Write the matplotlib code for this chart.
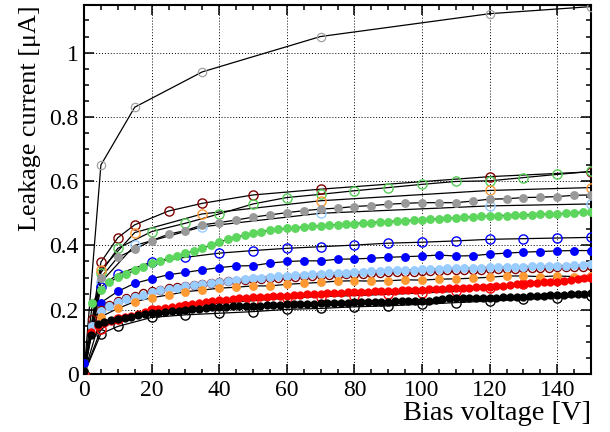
import matplotlib
matplotlib.use('Agg')
import matplotlib.pyplot as plt
from matplotlib.ticker import MultipleLocator, FormatStrFormatter
import numpy as np

plt.rcParams['font.family'] = ['Liberation Serif', 'DejaVu Serif']

# sparse scans, open markers
v_sparse = [0, 5, 15, 35, 70, 120, 150]
i_gray_open = [0.0, 0.650, 0.830, 0.940, 1.050, 1.121, 1.143]
i_orange_open = [0.0, 0.324, 0.440, 0.498, 0.539, 0.571, 0.580]
i_lblue_open = [0.0, 0.285, 0.400, 0.458, 0.500, 0.523, 0.529]

v_maroon = [0, 5, 10, 15, 25, 35, 50, 70, 120, 150]
i_maroon_open = [0.0, 0.348, 0.424, 0.464, 0.507, 0.531, 0.557, 0.575, 0.614, 0.629]

v_10 = [0, 5, 10, 20, 30, 40, 50, 60, 70, 80, 90, 100, 110, 120, 130, 140, 150]
i_green_open = [0.0, 0.315, 0.391, 0.443, 0.469, 0.498, 0.529, 0.549, 0.559,
                0.570, 0.580, 0.590, 0.599, 0.601, 0.611, 0.621, 0.630]
i_blue_open = [0.0, 0.270, 0.311, 0.348, 0.363, 0.376, 0.384, 0.391, 0.396,
               0.401, 0.407, 0.410, 0.414, 0.419, 0.421, 0.423, 0.425]
i_red_open = [0.0, 0.139, 0.170, 0.199, 0.212, 0.220, 0.228, 0.236, 0.241,
              0.244, 0.248, 0.252, 0.257, 0.268, 0.280, 0.291, 0.302]
i_black_open = [0.0, 0.125, 0.148, 0.176, 0.184, 0.189, 0.194, 0.201, 0.204,
                0.209, 0.212, 0.217, 0.222, 0.227, 0.232, 0.237, 0.244]

# 5 V step scans
v_5 = np.arange(0, 151, 5)
i_gray_fill = [0.010, 0.300, 0.363, 0.388, 0.415, 0.435, 0.446, 0.464, 0.471, 0.479,
               0.488, 0.495, 0.502, 0.508, 0.513, 0.516, 0.521, 0.524, 0.528, 0.531,
               0.533, 0.533, 0.533, 0.538, 0.544, 0.545, 0.549, 0.550, 0.552, 0.556,
               0.557]
i_blue_fill = [0.035, 0.222, 0.257, 0.282, 0.296, 0.309, 0.316, 0.324, 0.331, 0.336,
               0.337, 0.345, 0.350, 0.352, 0.352, 0.357, 0.358, 0.360, 0.363, 0.365,
               0.367, 0.370, 0.367, 0.368, 0.373, 0.376, 0.379, 0.381, 0.383, 0.384,
               0.384]
i_orange_fill = [0.0, 0.178, 0.204, 0.225, 0.237, 0.246, 0.256, 0.261, 0.267, 0.270,
                 0.274, 0.274, 0.279, 0.282, 0.285, 0.289, 0.290, 0.289, 0.290, 0.293,
                 0.292, 0.295, 0.296, 0.298, 0.301, 0.305, 0.305, 0.303, 0.305, 0.303,
                 0.304]

# 2.5 V step scans
v_25 = np.arange(0, 150.1, 2.5)
i_green_fill = [0.005, 0.222, 0.262, 0.285, 0.301, 0.311, 0.322, 0.333, 0.345, 0.352,
                0.360, 0.367, 0.375, 0.383, 0.391, 0.401, 0.410, 0.419, 0.426, 0.432,
                0.438, 0.443, 0.447, 0.450, 0.453, 0.455, 0.457, 0.459, 0.461, 0.463,
                0.465, 0.466, 0.468, 0.470, 0.471, 0.473, 0.474, 0.476, 0.477, 0.478,
                0.479, 0.481, 0.483, 0.485, 0.486, 0.487, 0.489, 0.490, 0.492, 0.493,
                0.493, 0.494, 0.495, 0.496, 0.497, 0.497, 0.498, 0.500, 0.502, 0.503,
                0.505]
i_lblue_fill = [0.0, 0.150, 0.195, 0.212, 0.223, 0.232, 0.240, 0.247, 0.255, 0.260,
                0.265, 0.269, 0.273, 0.277, 0.280, 0.283, 0.286, 0.289, 0.292, 0.295,
                0.298, 0.300, 0.302, 0.304, 0.305, 0.307, 0.308, 0.310, 0.311, 0.313,
                0.314, 0.315, 0.316, 0.318, 0.319, 0.320, 0.322, 0.323, 0.324, 0.325,
                0.326, 0.327, 0.328, 0.329, 0.329, 0.330, 0.331, 0.331, 0.332, 0.333,
                0.333, 0.334, 0.334, 0.335, 0.335, 0.336, 0.336, 0.337, 0.338, 0.339,
                0.341]
i_maroon_small = [0.0, 0.170, 0.200, 0.215, 0.227, 0.236, 0.244, 0.251, 0.257, 0.262,
                  0.266, 0.270, 0.274, 0.277, 0.280, 0.283, 0.285, 0.288, 0.290, 0.292,
                  0.294, 0.296, 0.298, 0.300, 0.301, 0.303, 0.304, 0.305, 0.307, 0.308,
                  0.309, 0.310, 0.311, 0.312, 0.313, 0.314, 0.316, 0.317, 0.318, 0.318,
                  0.319, 0.320, 0.321, 0.322, 0.322, 0.323, 0.324, 0.325, 0.326, 0.327,
                  0.328, 0.328, 0.329, 0.330, 0.330, 0.331, 0.332, 0.332, 0.333, 0.334,
                  0.335]

# 2 V step scans
v_2 = np.arange(0, 151, 2)
i_red_fill = [0.0, 0.130, 0.150, 0.158, 0.165, 0.172, 0.176, 0.181, 0.187, 0.193,
              0.198, 0.201, 0.204, 0.207, 0.210, 0.214, 0.217, 0.220, 0.223, 0.226,
              0.229, 0.231, 0.233, 0.235, 0.236, 0.238, 0.240, 0.241, 0.242, 0.243,
              0.244, 0.245, 0.247, 0.248, 0.249, 0.250, 0.251, 0.252, 0.253, 0.254,
              0.254, 0.255, 0.256, 0.257, 0.258, 0.259, 0.259, 0.260, 0.261, 0.261,
              0.262, 0.263, 0.264, 0.265, 0.266, 0.267, 0.268, 0.269, 0.270, 0.271,
              0.272, 0.274, 0.275, 0.277, 0.279, 0.280, 0.282, 0.284, 0.285, 0.286,
              0.287, 0.289, 0.292, 0.295, 0.299, 0.303]
i_black_fill = [0.010, 0.120, 0.155, 0.163, 0.168, 0.172, 0.175, 0.178, 0.182, 0.186,
                0.189, 0.191, 0.193, 0.195, 0.197, 0.199, 0.201, 0.203, 0.205, 0.207,
                0.208, 0.209, 0.210, 0.211, 0.212, 0.212, 0.213, 0.214, 0.215, 0.216,
                0.217, 0.218, 0.218, 0.219, 0.219, 0.220, 0.221, 0.221, 0.222, 0.222,
                0.223, 0.223, 0.224, 0.224, 0.225, 0.225, 0.226, 0.226, 0.226, 0.226,
                0.226, 0.228, 0.230, 0.233, 0.235, 0.236, 0.236, 0.236, 0.236, 0.236,
                0.236, 0.237, 0.238, 0.239, 0.240, 0.241, 0.242, 0.243, 0.244, 0.245,
                0.246, 0.247, 0.248, 0.249, 0.250, 0.251]


def draw(ax, v, i, color, filled, size=6.4, mew=1.0):
    ax.plot(v, i, color='black', lw=0.9, zorder=2)
    if filled:
        ax.plot(v, i, 'o', ms=size, mfc=color, mec=color, mew=0, zorder=3)
    else:
        ax.plot(v, i, 'o', ms=size, mfc='none', mec=color, mew=mew, zorder=3)


fig = plt.figure(figsize=(6.1, 4.32), dpi=100)
ax = fig.add_axes([0.1377, 0.1343, 0.8312, 0.8541])

draw(ax, v_sparse, i_gray_open, '#a0a0a0', False, 6.0, 0.9)
draw(ax, v_maroon, i_maroon_open, '#800000', False, 6.6)
draw(ax, v_10, i_green_open, '#55cc55', False, 6.6)
draw(ax, v_sparse, i_orange_open, '#ff9933', False, 6.6)
draw(ax, v_sparse, i_lblue_open, '#99ccff', False, 6.6)
draw(ax, v_10, i_blue_open, '#0000ff', False, 6.6)
draw(ax, v_10, i_black_open, 'black', False, 6.6)
draw(ax, v_10, i_red_open, '#ff0000', False, 6.6)
draw(ax, v_5, i_gray_fill, '#999999', True)
draw(ax, v_25, i_green_fill, '#5cd65c', True)
draw(ax, v_5, i_blue_fill, '#0000ff', True)
draw(ax, v_25, i_maroon_small, '#800000', False, 5.8)
draw(ax, v_25, i_lblue_fill, '#99ccff', True)
draw(ax, v_5, i_orange_fill, '#ff9933', True)
draw(ax, v_2, i_red_fill, '#ff0000', True, 6.0)
draw(ax, v_2, i_black_fill, 'black', True, 6.0)

ax.set_xlim(0, 150)
ax.set_ylim(0, 1.148)
ax.xaxis.set_major_locator(MultipleLocator(20))
ax.xaxis.set_minor_locator(MultipleLocator(5))
ax.yaxis.set_major_locator(MultipleLocator(0.2))
ax.yaxis.set_minor_locator(MultipleLocator(0.05))
ax.yaxis.set_major_formatter(FormatStrFormatter('%g'))
ax.grid(True, which='major', color='black', ls=(0, (1, 2)), lw=0.7)
ax.set_axisbelow(True)

ax.tick_params(which='both', direction='in', top=True, right=True,
               labelsize=17, width=1.1, pad=4)
ax.tick_params(which='major', length=7.5)
ax.tick_params(which='minor', length=3.8)
for s in ax.spines.values():
    s.set_linewidth(1.5)

ax.set_xlabel('Bias voltage [V]', fontsize=20.5, loc='right', labelpad=0)
ax.set_ylabel('Leakage current [\u03bcA]', fontsize=18.8, loc='top', labelpad=6)

fig.savefig('out.png', dpi=100)
